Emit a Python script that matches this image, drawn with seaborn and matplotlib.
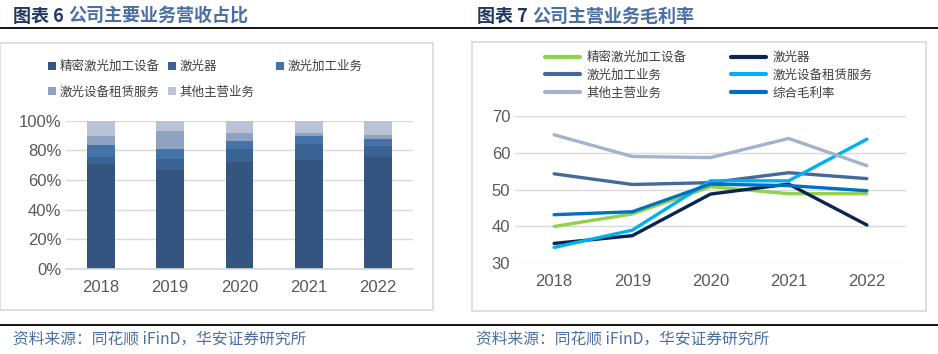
import pandas as pd
import matplotlib.pyplot as plt
import seaborn as sns
from matplotlib.patches import Patch, Rectangle
from matplotlib.lines import Line2D

# 数据
years = ["2018", "2019", "2020", "2021", "2022"]
rev_names = ["精密激光加工设备", "激光器", "激光加工业务", "激光设备租赁服务", "其他主营业务"]
rev_jingmi = [70.9, 66.8, 72.2, 73.5, 75.6]
rev_laser = [4.7, 7.4, 8.7, 10.8, 7.4]
rev_jiagong = [8.0, 6.7, 5.4, 5.4, 4.7]
rev_zulin = [6.1, 12.1, 5.6, 2.2, 2.7]
rev_other = [10.3, 7.0, 8.1, 8.1, 9.6]
rev_colors = ["#33557f", "#3a6394", "#4473a9", "#8fa3c1", "#b8c3d6"]

gm_names = ["精密激光加工设备", "激光器", "激光加工业务", "激光设备租赁服务", "其他主营业务", "综合毛利率"]
gm_jingmi = [40.0, 43.4, 50.8, 48.9, 48.9]
gm_laser = [35.4, 37.5, 48.8, 51.5, 40.4]
gm_jiagong = [54.3, 51.4, 51.9, 54.6, 53.0]
gm_zulin = [34.3, 39.0, 52.4, 52.4, 63.7]
gm_other = [64.9, 59.0, 58.7, 63.9, 56.5]
gm_total = [43.2, 44.0, 51.5, 51.1, 49.7]
gm_colors = ["#92d050", "#0c2452", "#44699b", "#00b0f0", "#a3b3cf", "#0070c0"]

sns.set_theme(style="white")
plt.rcParams['font.family'] = ['Liberation Sans', 'Noto Sans CJK SC', 'DejaVu Sans']
CJK = ['Noto Sans CJK SC', 'DejaVu Sans']
tick_color = "#595959"
grid_color = "#d9d9d9"

W, H = 938, 354
fig = plt.figure(figsize=(W / 100, H / 100), dpi=100)


def fx(px):
    return px / W


def fy(py):
    return 1 - py / H


# 边框和分隔线
for x0, y0, x1, y1 in [(0, 43, 433, 310), (472, 42, 926, 311)]:
    fig.patches.append(Rectangle((fx(x0), fy(y1)), fx(x1 - x0), (y1 - y0) / H,
                                 transform=fig.transFigure, fill=False,
                                 edgecolor=grid_color, linewidth=1.2))
for y in [28, 325]:
    fig.add_artist(Line2D([0, 1], [fy(y), fy(y)], color="black", lw=1.3,
                          transform=fig.transFigure))

# 标题
fig.text(fx(13), fy(16), "图表 6", color="#1f3864", fontsize=13, fontweight="bold",
         family=CJK, va="center")
fig.text(fx(68), fy(16), "公司主要业务营收占比", color="#4a6fa5", fontsize=13,
         fontweight="bold", family=CJK, va="center")
fig.text(fx(477), fy(16), "图表 7", color="#1f3864", fontsize=13, fontweight="bold",
         family=CJK, va="center")
fig.text(fx(532), fy(16), "公司主营业务毛利率", color="#4a6fa5", fontsize=13,
         fontweight="bold", family=CJK, va="center")
for x in [13, 476]:
    fig.text(fx(x), fy(339), "资料来源：同花顺 iFinD，华安证券研究所", color="#4a6fa5",
             fontsize=11.3, family=CJK, va="center")

# 图表 6：堆积柱状图
ax1 = fig.add_axes([fx(66), fy(269), fx(413 - 66), (269 - 120.7) / H])
rev = pd.DataFrame({"year": years, rev_names[0]: rev_jingmi, rev_names[1]: rev_laser,
                    rev_names[2]: rev_jiagong, rev_names[3]: rev_zulin,
                    rev_names[4]: rev_other})
cum = rev.set_index("year")[rev_names].cumsum(axis=1) / 100
for name, color in reversed(list(zip(rev_names, rev_colors))):
    sns.barplot(x=cum.index, y=cum[name].values, color=color, width=0.4,
                ax=ax1, saturation=1, linewidth=0)
ax1.set_ylim(0, 1)
ax1.set_xlim(-0.5, 4.5)
ax1.set_yticks([0, 0.2, 0.4, 0.6, 0.8, 1.0])
ax1.set_yticklabels([f"{int(round(v * 100))}%" for v in ax1.get_yticks()])
ax1.yaxis.grid(True, color=grid_color, lw=1)
ax1.set_axisbelow(True)
for s in ["top", "right", "left"]:
    ax1.spines[s].set_visible(False)
ax1.spines["bottom"].set_color(grid_color)
ax1.tick_params(axis="both", length=0, labelsize=12, labelcolor=tick_color)
ax1.tick_params(axis="x", pad=8)
ax1.set_xlabel("")
ax1.set_ylabel("")

handles = [Patch(facecolor=c, edgecolor="none") for c in rev_colors]
leg_kw = dict(loc="upper left", bbox_transform=fig.transFigure, frameon=False,
              prop={"family": CJK, "size": 9}, handlelength=0.6, handleheight=0.6,
              handletextpad=0.3, columnspacing=0.7, labelspacing=1.0,
              borderaxespad=0, borderpad=0, labelcolor="#404040")
order = [0, 3, 1, 4]
leg_a = ax1.legend([handles[i] for i in order], [rev_names[i] for i in order], ncol=2,
                   bbox_to_anchor=(fx(48), fy(60)), **leg_kw)
ax1.add_artist(leg_a)
ax1.legend([handles[2]], [rev_names[2]], ncol=1, bbox_to_anchor=(fx(276), fy(60)), **leg_kw)

# 图表 7：折线图
ax2 = fig.add_axes([fx(515), fy(263.3), fx(906 - 515), (263.3 - 116) / H])
gm = pd.DataFrame({"year": years, gm_names[0]: gm_jingmi, gm_names[1]: gm_laser,
                   gm_names[2]: gm_jiagong, gm_names[3]: gm_zulin,
                   gm_names[4]: gm_other, gm_names[5]: gm_total})
gm_long = gm.melt(id_vars="year", var_name="业务", value_name="毛利率")
sns.lineplot(data=gm_long, x="year", y="毛利率", hue="业务", hue_order=gm_names,
             palette=gm_colors, linewidth=2.4, ax=ax2, legend=False)
ax2.set_ylim(30, 70)
ax2.set_xlim(-0.5, 4.5)
ax2.set_yticks([30, 40, 50, 60, 70])
ax2.yaxis.grid(True, color=grid_color, lw=1)
ax2.set_axisbelow(True)
for s in ["top", "right", "left", "bottom"]:
    ax2.spines[s].set_visible(False)
ax2.tick_params(axis="both", length=0, labelsize=12, labelcolor=tick_color)
ax2.tick_params(axis="x", pad=8)
ax2.set_xlabel("")
ax2.set_ylabel("")

lh = [Line2D([0], [0], color=c, lw=3) for c in gm_colors]
order2 = [0, 2, 4, 1, 3, 5]
ax2.legend([lh[i] for i in order2], [gm_names[i] for i in order2], ncol=2,
           loc="upper left", bbox_to_anchor=(fx(545), fy(51)),
           bbox_transform=fig.transFigure, frameon=False,
           prop={"family": CJK, "size": 9}, handlelength=2.8,
           handletextpad=0.5, columnspacing=3.6, labelspacing=0.38,
           borderaxespad=0, borderpad=0, labelcolor="#404040")

fig.savefig("out.png", dpi=100)
